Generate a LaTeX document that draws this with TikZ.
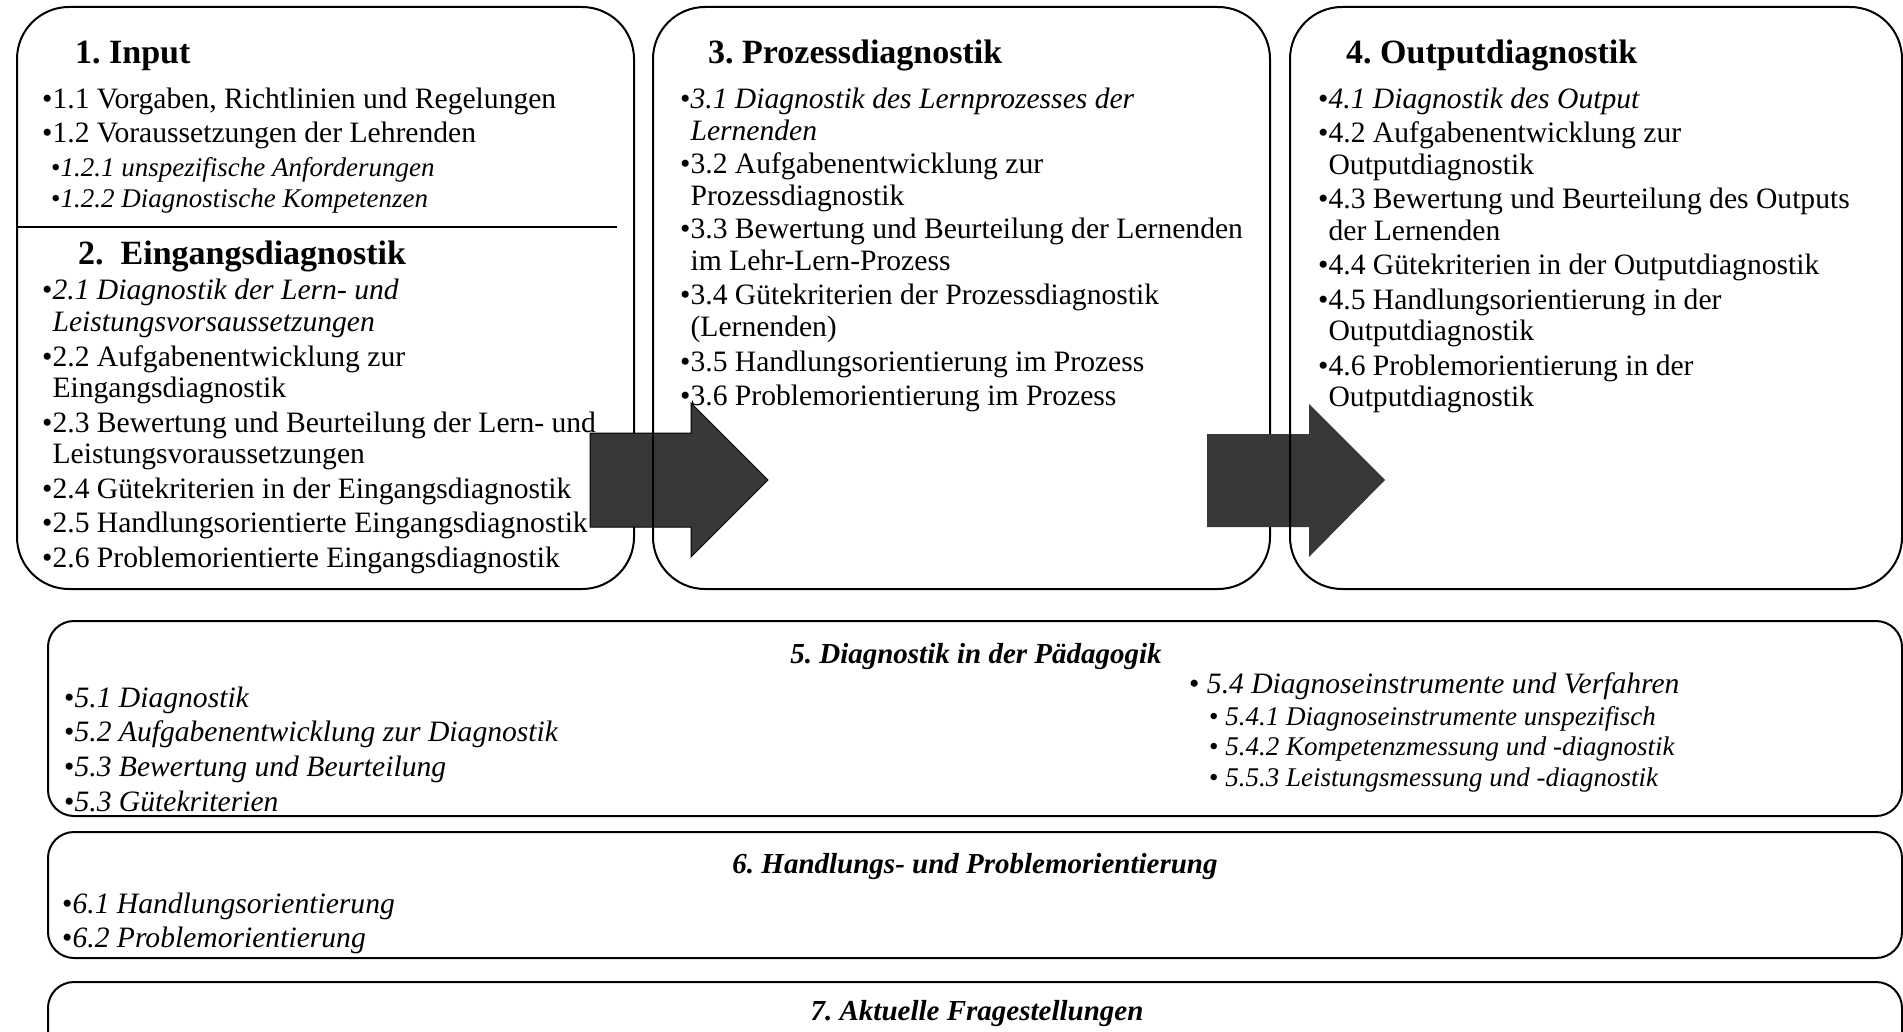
\documentclass[tikz,border=0pt]{standalone}
\usepackage{fontspec}
\setmainfont{Liberation Serif}
\frenchspacing
\newcommand\rows[1]{\begin{tabular}[t]{@{}l@{}}#1\end{tabular}}
\begin{document}
\begin{tikzpicture}[x=1pt,y=-1pt,
  frame/.style={draw=black, line width=2pt, rounded corners=52pt},
  band/.style={draw=black, line width=2pt, rounded corners=26pt},
  flow/.style={fill=black!78},
  head/.style={anchor=base west, inner sep=0pt, font=\fontsize{34}{40}\selectfont\bfseries},
  bandhead/.style={anchor=base, inner sep=0pt, font=\fontsize{29}{34}\selectfont\bfseries\itshape},
  entry/.style={anchor=base west, inner sep=0pt, font=\fontsize{29.6}{31.5}\selectfont},
  subentry/.style={anchor=base west, inner sep=0pt, font=\fontsize{27}{31}\selectfont\itshape},
  bentry/.style={anchor=base west, inner sep=0pt, font=\fontsize{29.6}{34}\selectfont\itshape},
]
\useasboundingbox (0,0) rectangle (1903,1032);
\clip (0,0) rectangle (1903,1032);

% upper row: three phase boxes with the block arrows between them
\draw[frame] (17,7) rectangle (634,589);
\draw[line width=2pt] (17,227) -- (617,227);
\draw[flow, draw=black, line width=1pt] (590,433) -- (691,433) -- (691,403) -- (768,480) -- (691,557) -- (691,527) -- (590,527) -- cycle;
\draw[frame] (653,7) rectangle (1270,589);
\draw[flow, draw=none] (1207,434) -- (1309,434) -- (1309,404) -- (1385,480) -- (1309,557) -- (1309,527) -- (1207,527) -- cycle;
\draw[frame] (1290,7) rectangle (1902,589);

% lower bands
\draw[band] (48,621) rectangle (1902,816);
\draw[band] (48,832) rectangle (1902,958);
\draw[band] (48,982) rectangle (1902,1080);

% 1. Input
\node[head] (t1) at (75,64) {1. Input};
\node[entry] (i11) at (42,109) {\textbullet 1.1 Vorgaben, Richtlinien und Regelungen};
\node[entry] (i12) at (42,143) {\textbullet 1.2 Voraussetzungen der Lehrenden};
\node[subentry] (i121) at (51,177) {{\upshape\textbullet}1.2.1 unspezifische Anforderungen};
\node[subentry] (i122) at (51,208) {{\upshape\textbullet}1.2.2 Diagnostische Kompetenzen};

% 2. Eingangsdiagnostik
\node[head] (t2) at (78,265) {2.\ \ Eingangsdiagnostik};
\node[entry] (i21) at (42,300) {\textbullet\rows{\itshape 2.1 Diagnostik der Lern- und\\\itshape Leistungsvorsaussetzungen}};
\node[entry] (i22) at (42,366) {\textbullet\rows{2.2 Aufgabenentwicklung zur\\Eingangsdiagnostik}};
\node[entry] (i23) at (42,432) {\textbullet\rows{2.3 Bewertung und Beurteilung der Lern- und\\Leistungsvoraussetzungen}};
\node[entry] (i24) at (42,498) {\textbullet 2.4 Gütekriterien in der Eingangsdiagnostik};
\node[entry] (i25) at (42,532) {\textbullet 2.5 Handlungsorientierte Eingangsdiagnostik};
\node[entry] (i26) at (42,567) {\textbullet 2.6 Problemorientierte Eingangsdiagnostik};

% 3. Prozessdiagnostik
\node[head] (t3) at (708,64) {3. Prozessdiagnostik};
\node[entry] (i31) at (680,109) {\textbullet\rows{\itshape 3.1 Diagnostik des Lernprozesses der\\\itshape Lernenden}};
\node[entry] (i32) at (680,174) {\textbullet\rows{3.2 Aufgabenentwicklung zur\\Prozessdiagnostik}};
\node[entry] (i33) at (680,239) {\textbullet\rows{3.3 Bewertung und Beurteilung der Lernenden\\im Lehr-Lern-Prozess}};
\node[entry] (i34) at (680,305) {\textbullet\rows{3.4 Gütekriterien der Prozessdiagnostik\\(Lernenden)}};
\node[entry] (i35) at (680,371) {\textbullet 3.5 Handlungsorientierung im Prozess};
\node[entry] (i36) at (680,405) {\textbullet 3.6 Problemorientierung im Prozess};

% 4. Outputdiagnostik
\node[head] (t4) at (1346,64) {4. Outputdiagnostik};
\node[entry] (i41) at (1318,109) {\textbullet{\itshape 4.1 Diagnostik des Output}};
\node[entry] (i42) at (1318,143) {\textbullet\rows{4.2 Aufgabenentwicklung zur\\Outputdiagnostik}};
\node[entry] (i43) at (1318,209) {\textbullet\rows{4.3 Bewertung und Beurteilung des Outputs\\der Lernenden}};
\node[entry] (i44) at (1318,275) {\textbullet 4.4 Gütekriterien in der Outputdiagnostik};
\node[entry] (i45) at (1318,309) {\textbullet\rows{4.5 Handlungsorientierung in der\\Outputdiagnostik}};
\node[entry] (i46) at (1318,375) {\textbullet\rows{4.6 Problemorientierung in der\\Outputdiagnostik}};

% 5. Diagnostik in der Pädagogik
\node[bandhead] (t5) at (976,663) {5. Diagnostik in der Pädagogik};
\node[bentry] (i51) at (64,707) {{\upshape\textbullet}5.1 Diagnostik};
\node[bentry] (i52) at (64,741) {{\upshape\textbullet}5.2 Aufgabenentwicklung zur Diagnostik};
\node[bentry] (i53) at (64,776) {{\upshape\textbullet}5.3 Bewertung und Beurteilung};
\node[bentry] (i53b) at (64,811) {{\upshape\textbullet}5.3 Gütekriterien};
\node[bentry] (i54) at (1189,693) {{\upshape\textbullet} 5.4 Diagnoseinstrumente und Verfahren};
\node[subentry] (i541) at (1209,725) {{\upshape\textbullet} 5.4.1 Diagnoseinstrumente unspezifisch};
\node[subentry] (i542) at (1209,755) {{\upshape\textbullet} 5.4.2 Kompetenzmessung und -diagnostik};
\node[subentry] (i553) at (1209,786) {{\upshape\textbullet} 5.5.3 Leistungsmessung und -diagnostik};

% 6. Handlungs- und Problemorientierung
\node[bandhead] (t6) at (975,873) {6. Handlungs- und Problemorientierung};
\node[bentry] (i61) at (62,913) {{\upshape\textbullet}6.1 Handlungsorientierung};
\node[bentry] (i62) at (62,947) {{\upshape\textbullet}6.2 Problemorientierung};

% 7. Aktuelle Fragestellungen
\node[bandhead] (t7) at (977,1020) {7. Aktuelle Fragestellungen};
\end{tikzpicture}
\end{document}
